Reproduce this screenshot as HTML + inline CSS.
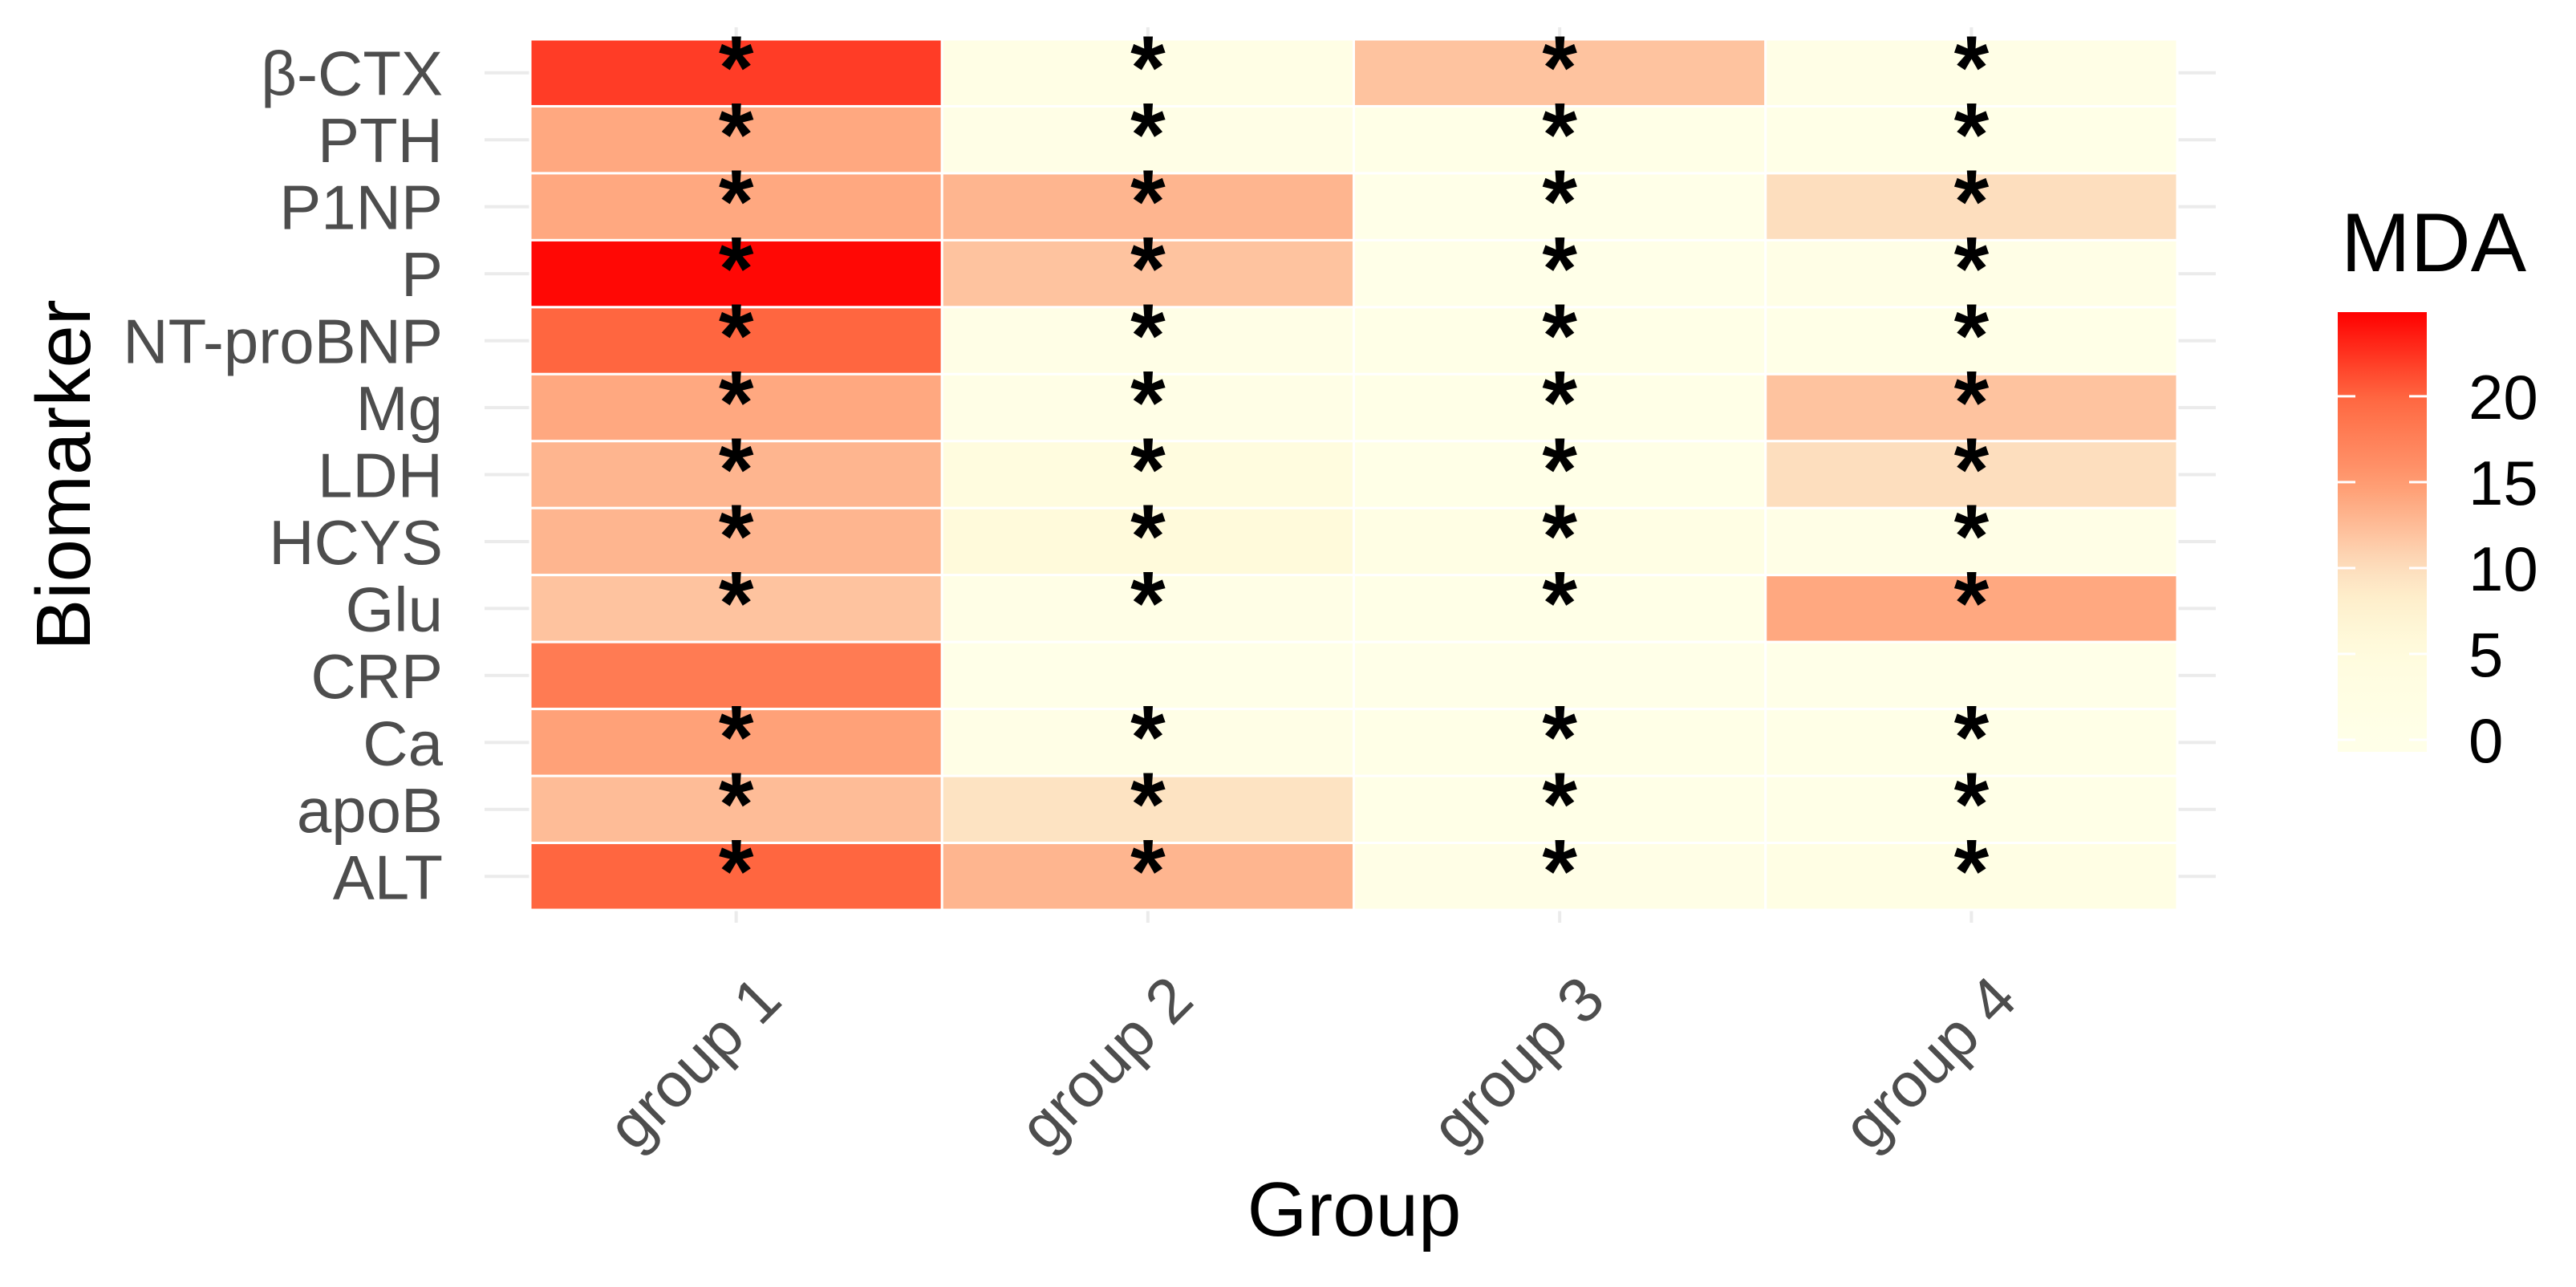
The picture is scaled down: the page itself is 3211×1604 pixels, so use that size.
<!DOCTYPE html>
<html><head><meta charset="utf-8"><style>
html,body{margin:0;padding:0;background:#fff;}
svg{display:block;font-family:"Liberation Sans",Arial,sans-serif;}
</style></head><body>
<svg id="chart" width="3211" height="1604" viewBox="0 0 3211 1604" xmlns="http://www.w3.org/2000/svg">
<defs>
<linearGradient id="cbar" x1="0" y1="1" x2="0" y2="0"></linearGradient>
</defs>
<g id="grid"></g>
<g id="tiles"></g>
<g id="stars"></g>
<g id="ylabels"></g>
<g id="xlabels"></g>
<text x="0" y="0" transform="translate(112,592) rotate(-90)" text-anchor="middle" font-size="96" fill="#000">Biomarker</text>
<text x="1688" y="1540" text-anchor="middle" font-size="96" fill="#000">Group</text>
<g id="legend">
<text x="2918" y="338" font-size="104" fill="#000">MDA</text>
<rect x="2914" y="389" width="111" height="548" fill="url(#cbar)"/>
<g id="legticks"></g>
</g>
</svg>
<script>
const groups = ["group 1","group 2","group 3","group 4"];
const biomarkers = ["β-CTX","PTH","P1NP","P","NT-proBNP","Mg","LDH","HCYS","Glu","CRP","Ca","apoB","ALT"];
const group1 = [22,14,14,24.5,20,14,13,13,12,18,14.5,12.5,20];
const group2 = [1.5,1,13,12,1,1,4.5,5.5,1,0,1,9.5,13];
const group3 = [12,0.5,0,0,0.5,0.5,0.5,2,0.5,0,0.5,0.5,1];
const group4 = [1,0.5,10,1,0.5,12,10,1,14,0,0.5,0.5,2];
const starred = [1,1,1,1,1,1,1,1,1,0,1,1,1];
const legendTicks = [0,5,10,15,20];
const scaleMin = -0.7, scaleMax = 24.9;

const NS="http://www.w3.org/2000/svg";
const series=[group1,group2,group3,group4];
const px0=661, px1=2714, py0=49, py1=1134;
const colW=(px1-px0)/groups.length, rowH=(py1-py0)/biomarkers.length;
function xPos(i){return px0+i*colW;}
function yPos(j){return py0+j*rowH;}
const stops=[[0,[255,255,232]],[5,[255,252,222]],[8,[254,240,205]],[10,[253,222,190]],[15,[255,154,112]],[20,[255,102,64]],[24.9,[255,0,0]]];
function color(v){
  if(v<=stops[0][0]) return "rgb("+stops[0][1].join(",")+")";
  for(let k=1;k<stops.length;k++){
    if(v<=stops[k][0]){const a=stops[k-1],b=stops[k];const t=(v-a[0])/(b[0]-a[0]);
      return "rgb("+a[1].map((c,i)=>Math.round(c+(b[1][i]-c)*t)).join(",")+")";}
  }
  return "rgb(255,0,0)";
}
function legY(v){return 937-(v-scaleMin)/(scaleMax-scaleMin)*548;}
function mk(tag,attrs,parent){const e=document.createElementNS(NS,tag);for(const k in attrs)e.setAttribute(k,attrs[k]);parent.appendChild(e);return e;}

const grid=document.getElementById('grid');
biomarkers.forEach((b,j)=>{
  const y=yPos(j)+rowH/2;
  const l=mk('line',{x1:604,x2:2762,y1:y,y2:y,stroke:'#ebebeb','stroke-width':4},grid);
  
  
});
groups.forEach((g,i)=>{
  const x=xPos(i)+colW/2;
  const l=mk('line',{x1:x,x2:x,y1:34,y2:1150,stroke:'#ebebeb','stroke-width':4},grid);
  
  
});

const tiles=document.getElementById('tiles'), stars=document.getElementById('stars');
series.forEach((vals,i)=>{
  vals.forEach((v,j)=>{
    const r=mk('rect',{x:xPos(i),y:yPos(j),width:colW,height:rowH,fill:color(v),stroke:'#fff','stroke-width':3},tiles);
    
    
    if(starred[j]){
      const s=mk('text',{x:xPos(i)+colW/2,y:yPos(j)+74,'text-anchor':'middle','font-size':112,'font-weight':'bold',fill:'#000'},stars);
      s.textContent='*';
      
      
    }
  });
});

const yl=document.getElementById('ylabels');
biomarkers.forEach((b,j)=>{
  const t=mk('text',{x:552,y:yPos(j)+rowH/2+28,'text-anchor':'end','font-size':78,fill:'#4d4d4d'},yl);
  t.textContent=b;
  
  
});
const xl=document.getElementById('xlabels');
groups.forEach((g,i)=>{
  const cx=xPos(i)+colW/2+60, cy=1250;
  const t=mk('text',{x:0,y:0,transform:'translate('+cx+','+cy+') rotate(-45)','text-anchor':'end','font-size':78,fill:'#4d4d4d'},xl);
  t.textContent=g;
  
  
});

const grad=document.getElementById('cbar');
for(let k=0;k<=20;k++){
  const v=scaleMin+(scaleMax-scaleMin)*k/20;
  mk('stop',{offset:(k*5)+'%','stop-color':color(v)},grad);
}
const lt=document.getElementById('legticks');
legendTicks.forEach(v=>{
  const y=legY(v);
  mk('line',{x1:2914,x2:2936,y1:y,y2:y,stroke:'#fff','stroke-width':3},lt);
  mk('line',{x1:3003,x2:3025,y1:y,y2:y,stroke:'#fff','stroke-width':3},lt);
  const t=mk('text',{x:3077,y:y+28,'font-size':78,fill:'#000'},lt);
  t.textContent=v;
  
  
});
</script>
</body></html>
